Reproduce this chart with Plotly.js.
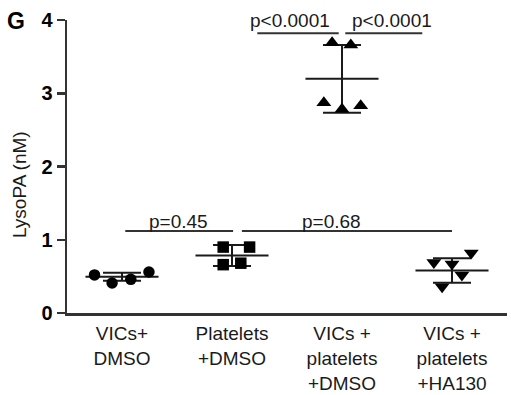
<!DOCTYPE html>
<html><head><meta charset="utf-8">
<script src="https://cdn.plot.ly/plotly-3.0.1.min.js"></script>
<style>html,body{margin:0;padding:0;background:#fff}#chart{width:511px;height:395px}</style>
</head><body><div id="chart"></div>
<script>
// ---- data ----
const categories = ["VICs+<br>DMSO", "Platelets<br>+DMSO", "VICs +<br>platelets<br>+DMSO", "VICs +<br>platelets<br>+HA130"];
const vicsDmso = [0.52, 0.41, 0.46, 0.56];
const plateletsDmso = [0.90, 0.90, 0.66, 0.68];
const vicsPlateletsDmso = [3.69, 3.66, 2.87, 2.78, 2.83];
const vicsPlateletsHa130 = [0.82, 0.69, 0.67, 0.52, 0.36];
const jitter = [
  [-0.25, -0.09, 0.08, 0.245],
  [-0.08, 0.16, -0.08, 0.08],
  [-0.09, 0.08, -0.165, 0, 0.17],
  [0.175, -0.165, 0, 0.09, -0.09]
];
const means = [0.495, 0.785, 3.197, 0.58];
const sds = [0.055, 0.143, 0.462, 0.167];
const yTickVals = [0, 1, 2, 3, 4];
const pLabels = ["p=0.45", "p=0.68", "p<0.0001", "p<0.0001"];
const bracketStart = [0.03, 1.09, 1.23, 2.03];
const bracketEnd = [1.01, 3.0, 1.97, 2.73];
const bracketY = [1.12, 1.12, 3.82, 3.82];
const labelX = [0.51, 1.905, 1.53, 2.45];
const labelY = [1.25, 1.25, 3.99, 3.99];

const groups = [vicsDmso, plateletsDmso, vicsPlateletsDmso, vicsPlateletsHa130];
const symbols = ["circle", "square", "triangle-up", "triangle-down"];
const sizes = [11.5, 11.5, 13, 13];
const ink = "#1a1a1a";
const font = "Liberation Sans, Arial, sans-serif";

const traces = [];
// brackets
const bx = [], by = [];
for (let i = 0; i < pLabels.length; i++) {
  bx.push(bracketStart[i], bracketEnd[i], null);
  by.push(bracketY[i], bracketY[i], null);
}
traces.push({x: bx, y: by, mode: "lines", line: {color: "#333", width: 2}, hoverinfo: "skip", cliponaxis: false});
// SD error bars
traces.push({
  x: [0, 1, 2, 3], y: means, mode: "markers", marker: {size: 0.1, color: "rgba(0,0,0,0)"},
  error_y: {type: "data", array: sds, visible: true, color: ink, thickness: 2, width: 19},
  hoverinfo: "skip"
});
// mean lines
const mx = [], my = [];
for (let i = 0; i < means.length; i++) {
  mx.push(i - 0.332, i + 0.332, null);
  my.push(means[i], means[i], null);
}
traces.push({x: mx, y: my, mode: "lines", line: {color: ink, width: 2}, hoverinfo: "skip"});
// points
groups.forEach((vals, g) => {
  traces.push({
    x: vals.map((v, k) => g + jitter[g][k]), y: vals, mode: "markers",
    marker: {symbol: symbols[g], size: sizes[g], color: "#000", line: {width: 0}},
    cliponaxis: false
  });
});

const L = 67, R = 4, T = 20, B = 82, W = 511, H = 395;
const pw = W - L - R, ph = H - T - B;

const annotations = pLabels.map((t, i) => ({
  x: labelX[i], y: labelY[i], xref: "x", yref: "y", text: t, showarrow: false,
  xanchor: "center", yanchor: "middle", font: {family: font, size: 19, color: ink}
}));
annotations.push({
  x: (16 - L) / pw, y: (H - B - 21) / ph, xref: "paper", yref: "paper", text: "<b>G</b>", showarrow: false,
  font: {family: font, size: 23, color: "#000"}, xanchor: "center", yanchor: "middle"
});
annotations.push({
  x: (20 - L) / pw, y: (H - B - 185) / ph, xref: "paper", yref: "paper", text: "LysoPA (nM)", showarrow: false,
  textangle: -90, font: {family: font, size: 19, color: ink}, xanchor: "center", yanchor: "middle"
});

const layout = {
  width: W, height: H, margin: {l: L, r: R, t: T, b: B},
  paper_bgcolor: "#fff", plot_bgcolor: "#fff", showlegend: false,
  font: {family: font, color: ink},
  xaxis: {
    range: [-0.5, 3.5], tickvals: [0, 1, 2, 3], ticktext: categories, ticks: "",
    showline: true, linecolor: "#333", linewidth: 2.5, showgrid: false, zeroline: false,
    ticklabelstandoff: 2,
    tickfont: {family: font, size: 19, color: ink}, fixedrange: true
  },
  yaxis: {
    range: [0, 4], tickvals: yTickVals, ticks: "outside", ticklen: 8, tickwidth: 2.5, tickcolor: "#333",
    showline: true, linecolor: "#333", linewidth: 2.5, showgrid: false, zeroline: false,
    tickfont: {family: font, size: 20, color: "#000", weight: "bold"}, fixedrange: true
  },
  annotations: annotations
};
Plotly.newPlot("chart", traces, layout, {staticPlot: true});
</script></body></html>
